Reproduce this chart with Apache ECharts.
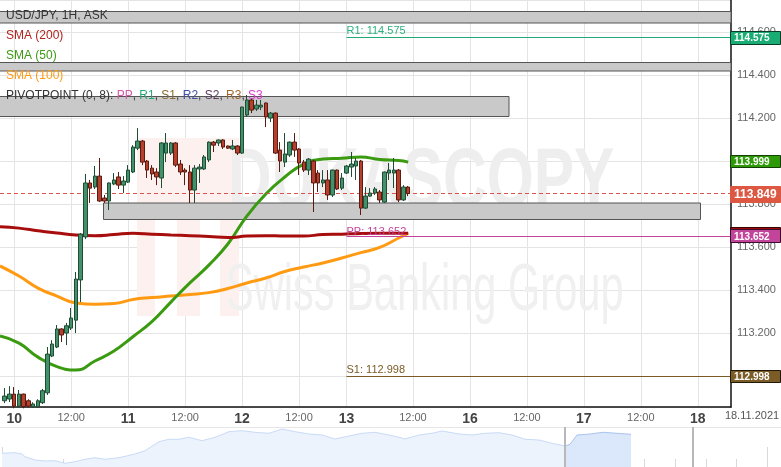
<!DOCTYPE html>
<html><head><meta charset="utf-8">
<script src="https://cdn.jsdelivr.net/npm/echarts@6/dist/echarts.min.js"></script>
<style>html,body{margin:0;padding:0;background:#fff}#c{width:781px;height:467px}</style>
</head><body><div id="c"></div>
<script>
// ---------- data ----------
const categoryCount = 155;            // hourly slots on the main x axis
const tickIndex = [3, 15, 27, 39, 51, 63, 73, 87, 99, 111, 123, 135, 147];
const tickText  = ['10', '12:00', '11', '12:00', '12', '12:00', '13', '12:00', '16', '12:00', '17', '12:00', '18'];
const candleStart = 1;                // slot of the first candle
// [open, close, low, high]
const candles = [
 [112.885,112.907,112.874,112.944],[112.893,112.916,112.879,112.953],[112.916,112.860,112.850,112.949],
 [112.860,112.916,112.852,112.935],[112.916,112.858,112.850,112.918],[112.885,112.860,112.853,112.892],
 [112.857,112.870,112.852,112.878],[112.857,112.885,112.853,112.892],[112.876,112.932,112.870,112.940],
 [112.922,113.102,112.912,113.135],[113.093,113.149,113.088,113.167],[113.135,113.219,113.130,113.237],
 [113.219,113.191,113.158,113.222],[113.200,113.234,113.144,113.247],[113.223,113.270,113.214,113.316],
 [113.260,113.451,113.200,113.484],[113.447,113.660,113.344,113.665],[113.647,113.898,113.637,113.940],
 [113.898,113.874,113.805,113.912],[113.879,113.930,113.870,113.977],[113.930,113.814,113.810,114.014],
 [113.828,113.814,113.805,113.842],[113.814,113.898,113.772,113.900],[113.893,113.912,113.888,113.944],
 [113.926,113.888,113.870,113.949],[113.888,113.907,113.851,113.930],[113.902,113.958,113.898,113.981],
 [113.949,114.065,113.944,114.074],[114.060,114.093,114.051,114.153],[114.093,113.995,113.981,114.098],
 [114.000,113.958,113.921,114.005],[113.967,113.940,113.912,113.981],[113.949,113.926,113.888,113.967],
 [113.921,114.084,113.874,114.088],[114.037,114.084,113.995,114.130],[114.037,114.084,114.028,114.088],
 [114.084,113.981,113.972,114.088],[113.986,113.949,113.935,114.005],[113.958,113.949,113.888,113.967],
 [113.949,113.865,113.805,113.981],[113.865,113.967,113.805,113.981],[113.963,113.972,113.898,113.986],
 [113.963,114.019,113.958,114.028],[114.005,114.088,113.995,114.091],[114.088,114.074,114.042,114.093],
 [114.084,114.098,114.070,114.100],[114.098,114.065,114.056,114.102],[114.070,114.060,114.056,114.072],
 [114.056,114.070,114.051,114.098],[114.070,114.037,114.028,114.074],[114.037,114.251,114.033,114.253],
 [114.214,114.284,114.205,114.307],[114.284,114.237,114.223,114.293],[114.242,114.260,114.233,114.284],
 [114.251,114.260,114.237,114.284],[114.270,114.205,114.158,114.272],[114.200,114.223,114.181,114.228],
 [114.223,114.037,114.033,114.226],[114.051,114.000,113.949,114.088],[113.995,114.033,113.972,114.130],
 [114.028,114.088,114.019,114.091],[114.088,114.051,114.019,114.130],[114.056,113.991,113.935,114.060],
 [113.995,113.958,113.949,114.005],[113.958,114.009,113.935,114.014],[114.000,113.898,113.763,114.005],
 [113.944,113.898,113.856,113.958],[113.898,113.912,113.879,113.958],[113.912,113.842,113.819,113.958],
 [113.842,113.958,113.833,113.960],[113.958,113.870,113.865,113.960],[113.874,113.921,113.865,113.944],
 [113.944,113.977,113.940,113.981],[113.972,113.986,113.926,114.042],[113.977,114.000,113.912,114.014],
 [114.000,113.781,113.749,114.005],[113.781,113.837,113.777,113.879],[113.837,113.851,113.833,113.874],
 [113.851,113.870,113.842,113.879],[113.856,113.819,113.805,113.865],[113.809,113.949,113.805,113.951],
 [113.944,113.958,113.912,113.991],[113.944,113.958,113.874,114.014],[113.958,113.819,113.809,113.963],
 [113.819,113.879,113.814,113.888],[113.879,113.849,113.837,113.884]
];
const smaIdx = [0,4,8,12,16,20,24,28,32,36,40,44,48,52,56,60,64,68,72,76,80,84,86];
const sma50  = [113.186,113.153,113.088,113.044,113.028,113.070,113.116,113.183,113.253,113.344,113.433,113.516,113.614,113.744,113.847,113.926,113.986,114.009,114.013,114.019,114.007,114.002,113.995];
const sma100 = [113.512,113.465,113.409,113.372,113.340,113.334,113.337,113.356,113.365,113.372,113.379,113.388,113.407,113.433,113.456,113.486,113.507,113.526,113.549,113.574,113.598,113.642,113.665];
const sma200 = [113.694,113.688,113.676,113.665,113.656,113.653,113.658,113.664,113.660,113.656,113.653,113.649,113.644,113.651,113.653,113.651,113.651,113.658,113.660,113.663,113.664,113.664,113.664];
const pivotStart = 73;
const pivotR1 = 114.575, pivotPP = 113.652, pivotS1 = 112.998;
const lastPrice = 113.849, sma50Last = 113.999, sma200Last = 113.664;
// navigator overview (time position, relative level)
const navT = [0,7,13,20,23,33,43,53,63,73,83,93,103,117,133,143,157,167,177,187,200,213,227,240,253,267,280,293,307,320,333,347,360,373,387,400,403,417,430,440,457,470,483,497,510,523,537,550,563];
const navV = [13.7,14,14.3,13,10.3,7,6,6.3,3.7,5.3,7.7,9.3,7.7,9.3,13,16.3,25.3,27.7,27.7,29.7,26.3,29.7,35.3,36.3,34.7,33.7,38,35.3,33,32,28,31,33.7,34.7,32,29,28,32,33.7,36,33,32,33.7,34.3,32,27.7,27,23.7,21];
const navHiT = [563,568,575,588,601,615,629];
const navHiV = [21,22.7,32,33,34.7,33.7,32.7];
const navMarks = [563, 691];

// ---------- chart ----------
const FF = '"Liberation Sans", Arial, sans-serif';
const cats = Array.from({length: categoryCount}, () => '');
tickIndex.forEach((i, k) => { cats[i] = tickText[k]; });
const tickSet = new Set(tickIndex);
const candleData = candles.map((r, i) => [i + candleStart, r[0], r[1], r[2], r[3]]);
const pts = arr => smaIdx.map((x, i) => [x, arr[i]]);

const option = {
  animation: false,
  backgroundColor: '#fff',
  textStyle: {fontFamily: FF},
  grid: [
    {left: 0, right: 50, top: 0, bottom: 60},
    {left: 2, right: 0, top: 427, bottom: 0}
  ],
  xAxis: [
    {type: 'category', data: cats, boundaryGap: false, gridIndex: 0,
     axisLine: {show: true, lineStyle: {color: '#111', width: 1.5}},
     axisTick: {show: false},
     axisLabel: {interval: (i) => tickSet.has(i), margin: 5,
       formatter: v => v.indexOf(':') >= 0 ? '{t|' + v + '}' : '{d|' + v + '}',
       rich: {d: {fontSize: 14, fontWeight: 'bold', color: '#444', fontFamily: FF},
              t: {fontSize: 11, color: '#666', fontFamily: FF}}},
     splitLine: {show: true, interval: (i) => tickSet.has(i), lineStyle: {color: '#e4e4e4', width: 1}}},
    {type: 'value', gridIndex: 1, min: 0, max: 779, interval: 153,
     axisLine: {show: false}, axisLabel: {show: false}, splitLine: {show: false},
     axisTick: {show: true, inside: true, length: 20, lineStyle: {color: '#d9d9d9'}},
     minorTick: {show: true, splitNumber: 5, length: 8, lineStyle: {color: '#d9d9d9'}}}
  ],
  yAxis: [
    {type: 'value', position: 'right', gridIndex: 0, min: 112.856, max: 114.749, splitNumber: 10,
     axisLine: {show: true, lineStyle: {color: '#111', width: 1.5}},
     axisTick: {show: false},
     axisLabel: {showMinLabel: false, showMaxLabel: false, margin: 6, color: '#666', fontSize: 11,
                 fontFamily: FF, formatter: v => v.toFixed(3)},
     splitLine: {lineStyle: {color: '#e4e4e4', width: 1}}},
    {type: 'value', gridIndex: 1, min: 0, max: 40, show: false}
  ],
  series: [
    {type: 'line', name: 'SMA (100)', data: pts(sma100), smooth: true, symbol: 'none', z: 3,
     lineStyle: {color: '#ff9a12', width: 3}},
    {type: 'line', name: 'SMA (50)', data: pts(sma50), smooth: true, symbol: 'none', z: 3,
     lineStyle: {color: '#3a9a10', width: 3}},
    {type: 'line', name: 'SMA (200)', data: pts(sma200), smooth: true, symbol: 'none', z: 3,
     lineStyle: {color: '#a80d0d', width: 3},
     markLine: {silent: true, symbol: 'none', animation: false,
       data: [
         [{coord: [pivotStart, pivotR1], lineStyle: {color: '#23a878', width: 1, type: 'solid'},
           label: {show: true, position: 'insideStartTop', distance: [0, 1], formatter: 'R1: ' + pivotR1.toFixed(3), color: '#2bb07f', fontSize: 11, fontFamily: FF}},
          {coord: [categoryCount - 1, pivotR1]}],
         [{coord: [pivotStart, pivotPP], lineStyle: {color: '#c2449b', width: 1, type: 'solid'},
           label: {show: true, position: 'insideStartTop', distance: [0, -2], formatter: 'PP: ' + pivotPP.toFixed(3), color: '#c2449b', fontSize: 11, fontFamily: FF}},
          {coord: [categoryCount - 1, pivotPP]}],
         [{coord: [pivotStart, pivotS1], lineStyle: {color: '#7a5a25', width: 1, type: 'solid'},
           label: {show: true, position: 'insideStartTop', distance: [0, 1], formatter: 'S1: ' + pivotS1.toFixed(3), color: '#7a5a25', fontSize: 11, fontFamily: FF}},
          {coord: [categoryCount - 1, pivotS1]}],
         {yAxis: lastPrice, lineStyle: {color: '#d9534f', width: 1, type: [4, 3]}, label: {show: false}}
       ]}},
    {type: 'candlestick', name: 'USD/JPY', data: candleData, encode: {x: 0, y: [1, 2, 3, 4]},
     barWidth: 4, z: 5,
     itemStyle: {color: '#43916a', color0: '#b5402d', borderColor: '#1f4d33', borderColor0: '#5c1a10', borderWidth: 1}},
    {type: 'line', xAxisIndex: 1, yAxisIndex: 1, data: navT.map((t, i) => [t, navV[i]]), symbol: 'none',
     lineStyle: {color: '#c9dbf6', width: 1}, areaStyle: {color: '#edf3fd', opacity: 1},
     markLine: {silent: true, symbol: 'none', label: {show: false},
       lineStyle: {color: '#b8b8b8', width: 2, type: 'solid'},
       data: navMarks.map(x => ({xAxis: x}))}},
    {type: 'line', xAxisIndex: 1, yAxisIndex: 1, data: navHiT.map((t, i) => [t, navHiV[i]]), symbol: 'none',
     lineStyle: {color: '#a9c4ee', width: 1}, areaStyle: {color: '#dbe7fb', opacity: 1}}
  ]
};

const chart = echarts.init(document.getElementById('c'));
chart.setOption(option);

// ---------- decorations ----------
const base = [
  // watermark
  {type: 'rect', z: 0, shape: {x: 137, y: 138, width: 102, height: 178}, style: {fill: '#fdf1f0'}},
  {type: 'rect', z: 0, shape: {x: 155, y: 207, width: 22, height: 109}, style: {fill: '#ffffff'}},
  {type: 'rect', z: 0, shape: {x: 200, y: 207, width: 20, height: 109}, style: {fill: '#ffffff'}},
  {type: 'text', z: 0, x: 228, y: 183, scaleX: 0.72, style: {text: 'DUKASCOPY', fill: '#eeeeee', font: 'bold 84px ' + FF, textVerticalAlign: 'middle'}},
  {type: 'text', z: 0, x: 226, y: 292, scaleX: 0.63, style: {text: 'Swiss Banking Group', fill: '#f0f0f0', font: '66px ' + FF, textVerticalAlign: 'middle'}},
  // grey bands
  {type: 'rect', z: 1, shape: {x: -1, y: 11.5, width: 732, height: 11.5}, style: {fill: '#c9c9c9', stroke: '#555', lineWidth: 1}},
  {type: 'rect', z: 1, shape: {x: -1, y: 62.5, width: 732, height: 8.5}, style: {fill: '#c9c9c9', stroke: '#555', lineWidth: 1}},
  {type: 'rect', z: 1, shape: {x: -1, y: 96.5, width: 510, height: 20}, style: {fill: '#c9c9c9', stroke: '#555', lineWidth: 1}},
  {type: 'rect', z: 1, shape: {x: 103.5, y: 203, width: 597, height: 16.5}, style: {fill: '#c9c9c9', stroke: '#555', lineWidth: 1}},
  // legend
  {type: 'text', z: 20, x: 6, y: 16, style: {text: 'USD/JPY, 1H, ASK', fill: '#333', font: '12px ' + FF, textVerticalAlign: 'middle'}},
  {type: 'text', z: 20, x: 6, y: 36, style: {text: 'SMA (200)', fill: '#b3221c', font: '12px ' + FF, textVerticalAlign: 'middle'}},
  {type: 'text', z: 20, x: 6, y: 55.5, style: {text: 'SMA (50)', fill: '#3b9a12', font: '12px ' + FF, textVerticalAlign: 'middle'}},
  {type: 'text', z: 20, x: 6, y: 76, style: {text: 'SMA (100)', fill: '#ff9a12', font: '12px ' + FF, textVerticalAlign: 'middle'}},
  {type: 'text', z: 20, x: 6, y: 96, style: {
    text: 'PIVOTPOINT (0, 8): {pp|PP}, {r1|R1}, {s1|S1}, {r2|R2}, {s2|S2}, {r3|R3}, {s3|S3}',
    fill: '#333', font: '12px ' + FF, textVerticalAlign: 'middle',
    rich: {pp: {fill: '#d65aa8', font: '12px ' + FF}, r1: {fill: '#25a878', font: '12px ' + FF},
           s1: {fill: '#8b6b35', font: '12px ' + FF}, r2: {fill: '#3f51a3', font: '12px ' + FF},
           s2: {fill: '#5d3d5d', font: '12px ' + FF}, r3: {fill: '#a0672e', font: '12px ' + FF},
           s3: {fill: '#e03ad0', font: '12px ' + FF}}}},
  {type: 'text', z: 20, x: 752, y: 416, style: {text: '18.11.2021', fill: '#555', font: '11px ' + FF, textAlign: 'center', textVerticalAlign: 'middle'}},
  {type: 'line', z: 1, shape: {x1: 0, y1: 427.5, x2: 781, y2: 427.5}, style: {stroke: '#e6e6e6', lineWidth: 1}}
];

const badgeDefs = [
  {v: pivotR1, text: pivotR1.toFixed(3), bg: '#19ad74', stroke: '#0b3d28', h: 13, font: 'bold 10px '},
  {v: sma50Last, text: sma50Last.toFixed(3), bg: '#2f9a08', stroke: '#153f04', h: 12, font: 'bold 10px '},
  {v: lastPrice, text: lastPrice.toFixed(3), bg: '#dc5843', stroke: '#dc5843', h: 16, font: 'bold 12px '},
  {v: sma200Last, text: sma200Last.toFixed(3), bg: '#a00a0a', stroke: '#3a0000', h: 13, font: 'bold 10px '},
  {v: pivotPP, text: pivotPP.toFixed(3), bg: '#c2449b', stroke: '#3a0d2c', h: 13, font: 'bold 10px '},
  {v: pivotS1, text: pivotS1.toFixed(3), bg: '#7b5b26', stroke: '#221808', h: 12, font: 'bold 10px '}
];
const badges = [];
badgeDefs.forEach((b, i) => {
  const y = chart.convertToPixel({yAxisIndex: 0}, b.v);
  badges.push({type: 'rect', z: 30 + i, shape: {x: 730.5, y: Math.round(y - b.h / 2) + 0.5, width: 50, height: b.h},
               style: {fill: b.bg, stroke: b.stroke, lineWidth: 1}});
  badges.push({type: 'text', z: 30 + i, x: 734, y: Math.round(y) + 1, style: {text: b.text, fill: '#fff', font: b.font + FF, textVerticalAlign: 'middle'}});
});
chart.setOption({graphic: {elements: base.concat(badges)}});
</script></body></html>
